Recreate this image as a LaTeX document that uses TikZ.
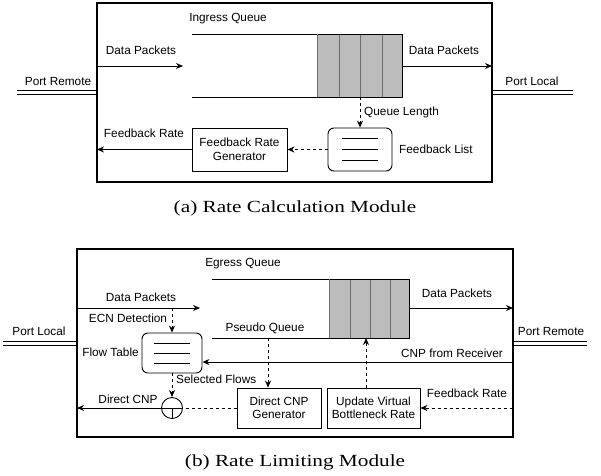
\documentclass[tikz,border=0pt]{standalone}
\usepackage{fontspec}
\setmainfont{Liberation Serif}
\setsansfont{Liberation Sans}
\newfontfamily\capfont[FakeStretch=1.25]{Liberation Serif}
\usetikzlibrary{arrows.meta}
\definecolor{cellgray}{RGB}{188,188,188}
\definecolor{divgray}{RGB}{110,110,110}
\tikzset{
  lbl/.style={inner sep=0pt, font=\sffamily\fontsize{11.8}{13.5}\selectfont},
  capt/.style={inner sep=0pt, font=\capfont\fontsize{17}{20}\selectfont},
  boxnode/.style={draw, line width=0.9pt, inner sep=0pt, align=center, font=\sffamily\fontsize{11.8}{13.5}\selectfont},
  listnode/.style={draw, line width=0.9pt, rounded corners=6pt, inner sep=0pt},
  arr/.style={line width=0.9pt, -{Stealth[length=7pt,width=6pt]}},
  dsh/.style={line width=0.9pt, dash pattern=on 3pt off 3pt},
  darr/.style={dsh, -{Stealth[length=7pt,width=6pt]}},
  port/.style={line width=0.9pt},
  frame/.style={draw, line width=1.1pt},
  qline/.style={line width=1pt},
}
\begin{document}
\begin{tikzpicture}[x=1pt,y=-1pt]
\useasboundingbox (0,0) rectangle (601,475);

%%%%%%%%%%%%%%%% (a) %%%%%%%%%%%%%%%%
\draw[frame] (97,3) rectangle (492,182);
\coordinate (aL) at (97,92);
\coordinate (aR) at (492,92);
\coordinate (aPR) at (17,92);
\coordinate (aPL) at (573,92);
\draw[port] ([yshift=2pt]aPR) -- ([yshift=2pt]aL);
\draw[port] ([yshift=-2pt]aPR) -- ([yshift=-2pt]aL);
\draw[port] ([yshift=2pt]aR) -- ([yshift=2pt]aPL);
\draw[port] ([yshift=-2pt]aR) -- ([yshift=-2pt]aPL);
\node[lbl] (aPRl) at (58,81) {Port Remote};
\node[lbl] (aPLl) at (532,81) {Port Local};

\node[lbl] (aIQ) at (228,19) {Ingress Queue};
% queue
\fill[cellgray] (317,34) rectangle (402,97);
\foreach \x in {339,360,382} \draw[divgray, line width=0.8pt] (\x,34) -- (\x,97);
\draw[qline] (192,34) -- (402,34) -- (402,97) -- (192,97);
\draw[divgray, line width=0.8pt] (317,34) -- (317,97);

\coordinate (aDin0) at (97,66);
\coordinate (aDin1) at (183,66);
\draw[arr] (aDin0) -- (aDin1);
\node[lbl] (aDinl) at (141,50) {Data Packets};
\coordinate (aDout0) at (402,66);
\coordinate (aDout1) at (492,66);
\draw[arr] (aDout0) -- (aDout1);
\node[lbl] (aDoutl) at (444,50) {Data Packets};

\node[listnode, minimum width=64pt, minimum height=43pt] (FL) at (360,149.5) {};
\foreach \y in {138,149,160} \draw[line width=0.9pt] (342,\y) -- (378,\y);
\node[lbl, anchor=west] (FLl) at (399,149) {Feedback List};

\coordinate (aQL) at (360,97);
\draw[darr] (aQL) -- (FL.north);
\node[lbl, anchor=west] (aQLl) at (364,112) {Queue Length};

\node[boxnode, minimum width=95pt, minimum height=43pt] (FRG) at (239.5,149.5) {Feedback Rate\\Generator};
\draw[darr] (FL.west) -- (FRG.east);
\coordinate (aFR) at (97,149.5);
\draw[arr] (FRG.west) -- (aFR);
\node[lbl] (aFRl) at (144,133) {Feedback Rate};

\node[capt] (capa) at (295,208) {(a) Rate Calculation Module};

%%%%%%%%%%%%%%%% (b) %%%%%%%%%%%%%%%%
\draw[frame] (77,249) rectangle (513,437);
\coordinate (bL) at (77,343);
\coordinate (bR) at (513,343);
\coordinate (bPL) at (3,343);
\coordinate (bPR) at (587,343);
\draw[port] ([yshift=2pt]bPL) -- ([yshift=2pt]bL);
\draw[port] ([yshift=-2pt]bPL) -- ([yshift=-2pt]bL);
\draw[port] ([yshift=2pt]bR) -- ([yshift=2pt]bPR);
\draw[port] ([yshift=-2pt]bR) -- ([yshift=-2pt]bPR);
\node[lbl] (bPLl) at (39,331) {Port Local};
\node[lbl] (bPRl) at (551,331) {Port Remote};

\node[lbl] (bEQ) at (243,264) {Egress Queue};
\fill[cellgray] (329,279) rectangle (409,338);
\foreach \x in {350,370,390} \draw[divgray, line width=0.8pt] (\x,279) -- (\x,338);
\draw[qline] (212,279) -- (409,279) -- (409,338) -- (212,338);
\draw[divgray, line width=0.8pt] (329,279) -- (329,338);
\node[lbl] (bPQ) at (265,328) {Pseudo Queue};

\coordinate (bDin0) at (77,308);
\coordinate (bDin1) at (200,308);
\draw[arr] (bDin0) -- (bDin1);
\node[lbl] (bDinl) at (141,297) {Data Packets};
\coordinate (bDout0) at (409,308);
\coordinate (bDout1) at (513,308);
\draw[arr] (bDout0) -- (bDout1);
\node[lbl] (bDoutl) at (457,293) {Data Packets};

\node[listnode, minimum width=60pt, minimum height=40pt] (FT) at (172,353) {};
\foreach \y in {343,353,363} \draw[line width=0.9pt] (154,\y) -- (190,\y);
\node[lbl] (FTl) at (110.5,352) {Flow Table};

\coordinate (bECN) at (172,308);
\draw[darr] (bECN) -- (FT.north);
\node[lbl] (bECNl) at (128,318) {ECN Detection};

\coordinate (bCNP) at (513,362);
\draw[arr] (bCNP) -- (bCNP -| FT.east);
\node[lbl] (bCNPl) at (452,353) {CNP from Receiver};

\node[boxnode, minimum width=84pt, minimum height=40pt] (DCG) at (279,408) {Direct CNP\\Generator};
\node[boxnode, minimum width=93pt, minimum height=40pt] (UVB) at (373.5,408) {Update Virtual\\Bottleneck Rate};

\coordinate (bPQd) at (268,338);
\draw[darr] (bPQd) -- (bPQd |- DCG.north);
\coordinate (bUVq) at (366,338);
\draw[darr] (bUVq |- UVB.north) -- (bUVq);

\coordinate (bFR) at (513,408);
\draw[darr] (bFR) -- (UVB.east);
\node[lbl] (bFRl) at (467,393) {Feedback Rate};

\node[draw, circle, line width=0.9pt, minimum size=21pt, inner sep=0pt] (SW) at (172,408) {};
\draw[line width=0.9pt] (SW.west) -- (SW.east);
\draw[line width=0.9pt] (SW.center) -- (SW.south);
\draw[darr] (FT.south) -- (SW.north);
\node[lbl, anchor=west] (bSFl) at (176,379) {Selected Flows};
\draw[dsh] (DCG.west) -- (SW.east);
\coordinate (bDC) at (77,408);
\draw[arr] (SW.west) -- (bDC);
\node[lbl] (bDCl) at (128,399) {Direct CNP};

\node[capt] (capb) at (295,462) {(b) Rate Limiting Module};
\end{tikzpicture}
\end{document}
